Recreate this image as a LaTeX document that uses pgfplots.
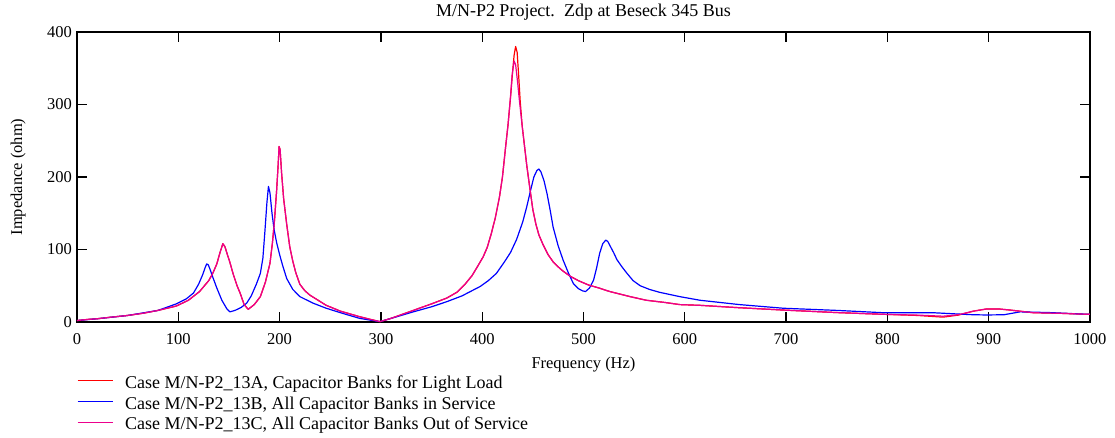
\documentclass[border=0pt]{standalone}
\usepackage{pgfplots}
\pgfplotsset{compat=1.18}
\usepackage{fontspec}
\setmainfont{Liberation Serif}

\pgfplotstableread{
x y
0 2
10 3.5
20 4.5
32 6.4
50 9
65 12
80 16
98 22
110 30
121 42
130 57
134 67
138 80
141 95
144 108
146 104
148 95
151 82
154 67
158 50
161 40
165 24
169 17.5
175 24
181 35
186 55
190.5 81
193 110
195 141
197 180
198.5 215
199.5 242
200.5 238
202 205
204 170
207 135
210 104
213 84
216 68
220 52
225 43
230 37
238 30
246 23
260 15
279 7.3
290 3.5
299 0.5
310 5
320 10
332 16
350 25
365 33
375 41
383 52
390 64
396 78
401 90
405 103
409 122
413 144
417 172
420 200
423 240
425.5 272
428 310
430 345
431.5 368
433 380
434.5 372
436 340
437.5 305
439.5 270
442 240
444 216
447 185
450 155
453 135
456 120
460 107
465 93
470 83
475 76
480 70
487 63
495 57
505 51
515 47
526 42
546 35
562 30
580 27
595 24
615 23
650 20
697 16.5
750 13
796 10.6
830 9
855 6.7
870 9.5
885 15
898 18
910 18
921 16.5
944 12.8
970 12
998 10.6
1000 10.6
}\dataA

\pgfplotstableread{
x y
0 2
20 4.5
50 9
80 16
98 25
108 32
115 40
120 52
124 65
126.5 75
128 80
129.5 79
131 74
134 62
138 47
143 30
148 18
151 14
156 16
162 20
167.5 26
172 36
177 52
181 67
183.5 88
185.5 125
187.5 165
189 187
190.5 178
192.5 150
194.5 128
197 110
200 93
203 78
207 60
213 45
220 35
233 26
246 19
262 12
279 5
290 2.5
299 0.5
315 7
332 14
350 21
365 28
380 36
398 49
406 57
414 67
422 83
428 96
434 114
440 138
444 159
448 183
451 200
454 209
456 211
458 207
461 195
464 177
467 155
470 131
475 105
480 85
485 68
490 53
495 46
499 43
502 42
506 47
510 58
513 75
516 95
519 108
522 113
524 111
527 103
530 95
533 86
538 76
543 67
549 57
556 50
565 45
575 41
595 35
615 30
654 24
697 19
750 16
796 12.8
845 12.8
870 11
885 10
898 9.7
915 10
931 14
960 13
998 10.6
1000 10.6
}\dataB

\pgfplotstableread{
x y
0 2
10 3.5
20 4.5
32 6.4
50 9
65 12
80 16
98 22
110 30
121 42
130 57
134 67
138 80
141 95
144 108
146 104
148 95
151 82
154 67
158 50
161 40
165 24
169 17.5
175 24
181 35
186 55
190.5 81
193 110
195 141
197 180
198.5 215
199.5 242
200.5 238
202 205
204 170
207 135
210 104
213 84
216 68
220 52
225 43
230 37
238 30
246 23
260 15
279 7.3
290 3.5
299 0.5
310 5
320 10
332 16
350 25
365 33
375 41
383 52
390 64
396 78
401 90
405 103
409 122
413 144
417 172
420 200
423 240
425.5 272
428 312
429.5 340
431.5 360
433 355
435 330
437 302
439.5 270
442 240
444 216
447 185
450 155
453 135
456 120
460 107
465 93
470 83
475 76
480 70
487 63
495 57
505 51
515 47
526 42
546 35
562 30
580 27
595 24
615 23
650 20
697 16.5
750 13
796 10.6
830 9.5
855 8
870 10
885 15
898 18
910 18
921 16.5
944 12.8
970 12
998 10.6
1000 10.6
}\dataC

\begin{document}
\begin{tikzpicture}
\path[use as bounding box] (-77bp,-116bp) rectangle (1038bp,322bp);
\begin{axis}[
  at={(0,0)}, anchor=south west,
  width=1013bp, height=290bp, scale only axis,
  xmin=0, xmax=1000, ymin=0, ymax=400,
  xtick={0,100,...,1000}, ytick={0,100,...,400},
  tick align=inside, major tick length=10bp,
  axis line style={line width=1.3bp},
  tick style={black, line width=1.3bp},
  /pgf/number format/assume math mode=true,
  /pgf/number format/1000 sep={},
  tick label style={font=\fontsize{16.5bp}{19bp}\selectfont},
  xticklabel style={anchor=base, yshift=-22bp},
  yticklabel style={xshift=-1.5bp},
  title={M/N-P2 Project.\ \ Zdp at Beseck 345 Bus},
  title style={font=\fontsize{18bp}{20bp}\selectfont, anchor=base, at={(axis description cs:0.5,1)}, yshift=10bp},
  xlabel={Frequency (Hz)},
  xlabel style={font=\fontsize{16.5bp}{19bp}\selectfont, anchor=base, at={(axis description cs:0.5,0)}, yshift=-46bp},
  ylabel={Impedance (ohm)},
  ylabel style={font=\fontsize{16.5bp}{19bp}\selectfont, at={(axis description cs:-0.0582,0.5)}, anchor=center},
  legend style={at={(axis description cs:0,0)}, anchor=north west, yshift=-52.3bp,
    draw=none, fill=none, inner sep=0pt, outer sep=0pt, row sep=0pt, column sep=12bp,
    font=\fontsize{18bp}{20bp}\selectfont,
    nodes={inner sep=0pt, text height=14bp, text depth=6.8bp}},
  legend cell align=left,
  legend image code/.code={\draw[#1, line width=1.2bp] (0bp,4bp) -- (35bp,4bp);},
]
\addplot[color=red, no markers, line width=1.2bp, line join=round] table {\dataA};
\addlegendentry{Case M/N-P2\_13A, Capacitor Banks for Light Load}
\addplot[color=blue, no markers, line width=1.2bp, line join=round] table {\dataB};
\addlegendentry{Case M/N-P2\_13B, All Capacitor Banks in Service}
\addplot[color=magenta, no markers, line width=1.2bp, line join=round] table {\dataC};
\addlegendentry{Case M/N-P2\_13C, All Capacitor Banks Out of Service}
\end{axis}
\end{tikzpicture}
\end{document}
